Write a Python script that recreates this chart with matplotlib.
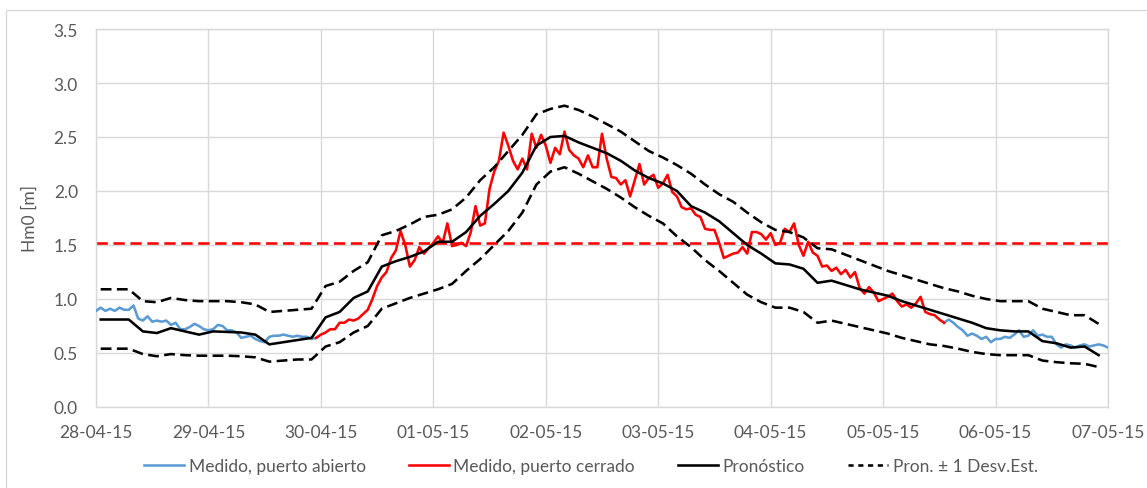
import numpy as np
import pandas as pd
import matplotlib
matplotlib.use("Agg")
import matplotlib.pyplot as plt
from matplotlib.patches import Rectangle
from matplotlib.lines import Line2D

# ---------------- data ----------------
start_date = "2015-04-28"
n_days = 9

# hourly measured Hm0 [m], hour 0 = 28-04-15 00:00
measured = [
    0.89, 0.92, 0.89, 0.91, 0.89, 0.92, 0.90, 0.90, 0.94, 0.82, 0.80, 0.84,
    0.79, 0.80, 0.79, 0.80, 0.76, 0.78, 0.72, 0.72, 0.74, 0.77, 0.75, 0.72,
    0.71, 0.72, 0.76, 0.75, 0.71, 0.71, 0.69, 0.64, 0.65, 0.66, 0.63, 0.61,
    0.60, 0.65, 0.66, 0.66, 0.67, 0.66, 0.65, 0.66, 0.65, 0.65, 0.63, 0.64,
    0.67, 0.69, 0.72, 0.72, 0.78, 0.78, 0.81, 0.80, 0.82, 0.86, 0.90, 1.00,
    1.12, 1.20, 1.25, 1.38, 1.45, 1.63, 1.50, 1.30, 1.36, 1.48, 1.42, 1.47,
    1.52, 1.58, 1.52, 1.70, 1.49, 1.50, 1.52, 1.49, 1.62, 1.86, 1.68, 1.70,
    2.02, 2.18, 2.28, 2.54, 2.42, 2.28, 2.20, 2.30, 2.20, 2.53, 2.40, 2.52,
    2.42, 2.26, 2.40, 2.34, 2.55, 2.38, 2.33, 2.30, 2.22, 2.33, 2.22, 2.22,
    2.53, 2.30, 2.13, 2.12, 2.06, 2.10, 1.95, 2.10, 2.25, 2.06, 2.12, 2.15,
    2.03, 2.07, 2.15, 1.99, 1.95, 1.85, 1.83, 1.84, 1.78, 1.76, 1.65, 1.64,
    1.64, 1.52, 1.38, 1.40, 1.42, 1.43, 1.48, 1.42, 1.62, 1.62, 1.60, 1.55,
    1.61, 1.50, 1.52, 1.65, 1.62, 1.70, 1.50, 1.40, 1.53, 1.43, 1.40, 1.30,
    1.31, 1.26, 1.29, 1.23, 1.27, 1.20, 1.25, 1.10, 1.05, 1.11, 1.06, 0.98,
    1.00, 1.02, 1.05, 0.98, 0.93, 0.95, 0.92, 0.96, 1.02, 0.88, 0.86, 0.85,
    0.81, 0.78, 0.81, 0.78, 0.74, 0.71, 0.66, 0.68, 0.66, 0.63, 0.65, 0.60,
    0.63, 0.63, 0.65, 0.64, 0.67, 0.71, 0.65, 0.66, 0.71, 0.66, 0.67, 0.65,
    0.65, 0.58, 0.55, 0.58, 0.57, 0.55, 0.57, 0.58, 0.56, 0.57, 0.58, 0.57,
    0.55,
]
closed_from_hour = 47    # port closed period (red)
closed_to_hour = 181

# 3-hourly forecast, first value at hour 1
forecast_first_hour = 1
forecast_step_hours = 3
forecast = [
    0.81, 0.81, 0.81, 0.70, 0.685, 0.73, 0.70, 0.67, 0.70, 0.695, 0.69, 0.67,
    0.58, 0.60, 0.62, 0.64, 0.83, 0.88, 1.01, 1.07, 1.30, 1.35, 1.39, 1.44,
    1.53, 1.53, 1.62, 1.77, 1.88, 2.00, 2.17, 2.42, 2.50, 2.51, 2.45, 2.40,
    2.35, 2.28, 2.19, 2.12, 2.07, 2.00, 1.86, 1.80, 1.72, 1.61, 1.50, 1.42,
    1.33, 1.32, 1.28, 1.15, 1.17, 1.13, 1.09, 1.06, 1.03, 0.98, 0.94, 0.90,
    0.86, 0.82, 0.78, 0.73, 0.71, 0.70, 0.70, 0.61, 0.59, 0.55, 0.56, 0.48,
]
forecast_upper = [
    1.09, 1.09, 1.09, 0.98, 0.97, 1.01, 0.99, 0.98, 0.98, 0.98, 0.97, 0.95,
    0.88, 0.89, 0.90, 0.91, 1.12, 1.16, 1.26, 1.34, 1.59, 1.63, 1.69, 1.76,
    1.78, 1.83, 1.94, 2.10, 2.22, 2.37, 2.52, 2.71, 2.76, 2.79, 2.75, 2.69,
    2.62, 2.55, 2.46, 2.37, 2.31, 2.24, 2.16, 2.06, 1.97, 1.90, 1.80, 1.71,
    1.64, 1.62, 1.57, 1.47, 1.46, 1.41, 1.36, 1.31, 1.26, 1.22, 1.18, 1.14,
    1.10, 1.07, 1.03, 1.00, 0.98, 0.98, 0.98, 0.91, 0.88, 0.85, 0.85, 0.77,
]
forecast_lower = [
    0.54, 0.54, 0.54, 0.49, 0.47, 0.49, 0.48, 0.475, 0.475, 0.475, 0.47, 0.46,
    0.42, 0.43, 0.44, 0.44, 0.56, 0.60, 0.69, 0.75, 0.91, 0.96, 1.01, 1.05,
    1.09, 1.14, 1.26, 1.37, 1.50, 1.63, 1.80, 2.06, 2.18, 2.22, 2.16, 2.09,
    2.02, 1.94, 1.85, 1.77, 1.70, 1.58, 1.48, 1.36, 1.26, 1.15, 1.04, 0.97,
    0.92, 0.92, 0.88, 0.78, 0.80, 0.77, 0.74, 0.71, 0.68, 0.64, 0.61, 0.58,
    0.565, 0.54, 0.51, 0.49, 0.48, 0.48, 0.48, 0.43, 0.415, 0.405, 0.40, 0.37,
]
threshold = 1.52

legend_labels = ["Medido, puerto abierto", "Medido, puerto cerrado",
                 "Pronóstico", "Pron. \u00b1 1 Desv.Est."]
y_label = "Hm0 [m]"

# ---------------- derived axes values ----------------
hours = np.arange(len(measured))
meas = np.array(measured, dtype=float)
open_vals = meas.copy()
open_vals[closed_from_hour + 1:closed_to_hour] = np.nan
closed_vals = np.full_like(meas, np.nan)
closed_vals[closed_from_hour:closed_to_hour + 1] = meas[closed_from_hour:closed_to_hour + 1]
f_hours = forecast_first_hour + forecast_step_hours * np.arange(len(forecast))

dates = pd.date_range(start_date, periods=n_days + 1, freq="D")
tick_hours = np.arange(n_days + 1) * 24
tick_labels = [d.strftime("%d-%m-%y") for d in dates]

# ---------------- style ----------------
FONT = ["Lato", "DejaVu Sans"]
plt.rcParams["font.family"] = FONT
TXT = "#595959"
GRID = "#D9D9D9"
BLUE = "#5B9BD5"
LW = 1.85
DASH = (4.2, 2.1)

fig = plt.figure(figsize=(11.47, 4.89), dpi=100)
W, H = 1147, 489
ax = fig.add_axes([96 / W, 1 - 408 / H, (1108 - 96) / W, (408 - 30) / H])

ax.plot(hours, open_vals, color=BLUE, lw=LW, label=legend_labels[0], zorder=3)
ax.plot(hours, closed_vals, color="#FF0000", lw=LW, label=legend_labels[1], zorder=3)
ax.axhline(threshold, color="#FF0000", lw=LW, dashes=(4.4, 2.2), zorder=2)
ax.plot(f_hours, forecast, color="black", lw=LW, label=legend_labels[2], zorder=4)
ax.plot(f_hours, forecast_upper, color="black", lw=LW, dashes=DASH,
        label=legend_labels[3], zorder=4)
ax.plot(f_hours, forecast_lower, color="black", lw=LW, dashes=DASH, zorder=4)

ax.set_xlim(0, n_days * 24)
ax.set_ylim(0, 3.5)
ax.set_xticks(tick_hours)
ax.set_xticklabels(tick_labels)
ax.set_yticks(np.arange(0, 3.51, 0.5))
ax.set_yticklabels([f"{v:.1f}" for v in np.arange(0, 3.51, 0.5)])
ax.grid(True, color=GRID, lw=1.0)
ax.set_axisbelow(True)
for s in ax.spines.values():
    s.set_color(GRID)
    s.set_linewidth(1.0)
ax.tick_params(length=0, labelsize=12.5, colors=TXT)
ax.tick_params(axis="y", pad=13)
ax.tick_params(axis="x", pad=12)
ax.set_ylabel(y_label, fontsize=12.5, color=TXT)
ax.yaxis.set_label_coords((38 - 96) / (1108 - 96), 0.5)

# chart border
fig.patches.append(Rectangle((6 / W, -0.2), 1.5, 1.2 - 10.5 / H,
                             transform=fig.transFigure, fill=False,
                             edgecolor=GRID, lw=1.0, clip_on=False))

handles = [Line2D([], [], color=BLUE, lw=LW),
           Line2D([], [], color="#FF0000", lw=LW),
           Line2D([], [], color="black", lw=LW),
           Line2D([], [], color="black", lw=LW, dashes=(2.0, 1.8))]
fig.legend(handles, legend_labels, loc="center", bbox_to_anchor=(591 / W, 1 - 467 / H),
           ncol=4, frameon=False, fontsize=12.5, labelcolor=TXT,
           handlelength=2.3, handletextpad=0.25, columnspacing=2.5)

fig.savefig("out.png", dpi=100)
